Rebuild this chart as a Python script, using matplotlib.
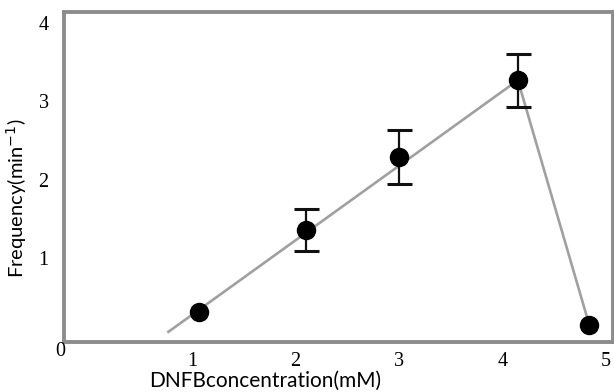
import matplotlib
matplotlib.use("Agg")
import matplotlib.pyplot as plt

# Data
conc = [1.07, 2.10, 3.00, 4.15, 4.84]
freq = [0.31, 1.36, 2.29, 3.27, 0.15]
err = [0.0, 0.27, 0.35, 0.34, 0.0]
line_x = [0.77, 4.15, 4.84]
line_y = [0.06, 3.27, 0.15]
xticks = [1, 2, 3, 4, 5]
yticks = [1, 2, 3, 4]

fig = plt.figure(figsize=(6.14, 3.92), dpi=100)
ax = fig.add_axes([64/614, 1-342/392, 549/614, 330/392])

ax.plot(line_x, line_y, color="#a0a0a0", lw=1.9, zorder=1)
ax.errorbar(conc, freq, yerr=[e if e > 0 else float('nan') for e in err],
            fmt="none", ecolor="#111111", elinewidth=1.6, capsize=9, capthick=2.2, zorder=2)
ax.plot(conc, freq, "o", color="black", markersize=13, zorder=3)

ax.set_xlim(-0.24, 5.07)
ax.set_ylim(-0.07, 4.14)
ax.set_xticks(xticks)
ax.set_yticks(yticks)
ax.set_xticklabels([str(t) for t in xticks], family="Liberation Serif", fontsize=14.5)
ax.set_yticklabels([str(t) for t in yticks], family="Liberation Serif", fontsize=14.5)
ax.tick_params(axis="both", length=0)
ax.tick_params(axis="x", pad=7)
ax.tick_params(axis="y", pad=11)

for s in ax.spines.values():
    s.set_color("#8c8c8c")
    s.set_linewidth(2.8)

fig.text(60/614, 1-352/392, "0", family="Liberation Serif", fontsize=14.5,
         ha="center", va="center")

ax.set_xlabel("DNFBconcentration(mM)", family="Lato", fontsize=15, va="center")
ax.xaxis.set_label_coords(0.366, -0.118)
ax.set_ylabel("Frequency(min$^{-1}$)", family="Lato", fontsize=14.5, va="center", ha="center")
ax.yaxis.set_label_coords(-0.0856, 0.436)

fig.savefig("out.png", dpi=100)
